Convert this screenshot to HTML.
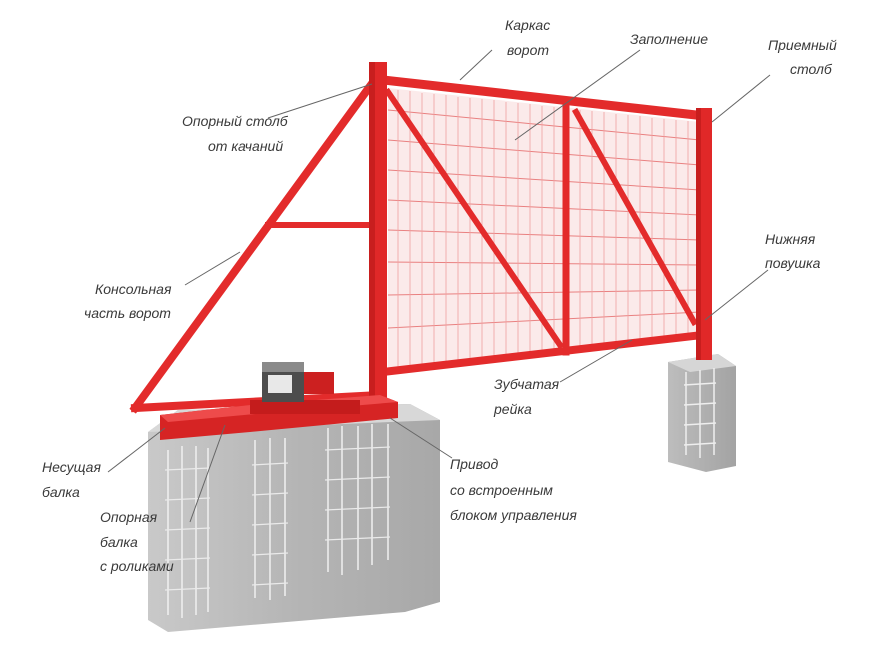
<!DOCTYPE html>
<html><head><meta charset="utf-8"><style>
html,body{margin:0;padding:0;background:#fff;}
svg{display:block;}
text{font-family:"Liberation Sans",sans-serif;font-style:italic;font-size:14px;fill:#3a3a3a;}
</style></head><body>
<svg width="880" height="652" viewBox="0 0 880 652" xmlns="http://www.w3.org/2000/svg">
<defs>
<linearGradient id="conc" x1="0" y1="0" x2="1" y2="0">
<stop offset="0" stop-color="#c9c9c9"/><stop offset="0.5" stop-color="#b5b5b5"/><stop offset="1" stop-color="#a8a8a8"/>
</linearGradient>
<linearGradient id="conc2" x1="0" y1="0" x2="1" y2="0">
<stop offset="0" stop-color="#bdbdbd"/><stop offset="1" stop-color="#a3a3a3"/>
</linearGradient>
</defs>
<!-- right pedestal -->
<polygon points="668,362 718,354 736,366 736,466 706,472 668,462" fill="url(#conc2)"/>
<polygon points="668,362 718,354 736,366 690,372" fill="#d6d6d6"/>
<g stroke="#eee" stroke-width="1.5" fill="none">
<line x1="686" y1="372" x2="686" y2="455"/><line x1="700" y1="370" x2="700" y2="458"/><line x1="714" y1="368" x2="714" y2="455"/>
<line x1="684" y1="385" x2="716" y2="383"/><line x1="684" y1="405" x2="716" y2="403"/><line x1="684" y1="425" x2="716" y2="423"/><line x1="684" y1="445" x2="716" y2="443"/>
</g>
<!-- left foundation -->
<polygon points="148,432 178,410 410,404 440,420 440,602 405,612 168,632 148,620" fill="url(#conc)"/>
<polygon points="148,432 178,410 410,404 440,420" fill="#d8d8d8"/>
<g stroke="#f0f0f0" stroke-width="1.5" fill="none">
<line x1="168" y1="450" x2="168" y2="615"/><line x1="182" y1="446" x2="182" y2="618"/><line x1="196" y1="446" x2="196" y2="615"/><line x1="208" y1="448" x2="208" y2="612"/>
<line x1="255" y1="440" x2="255" y2="598"/><line x1="270" y1="438" x2="270" y2="600"/><line x1="285" y1="438" x2="285" y2="596"/>
<line x1="328" y1="428" x2="328" y2="572"/><line x1="342" y1="426" x2="342" y2="575"/><line x1="358" y1="426" x2="358" y2="570"/><line x1="372" y1="424" x2="372" y2="565"/><line x1="388" y1="424" x2="388" y2="560"/>
</g>
<g stroke="#eaeaea" stroke-width="1.2">
<line x1="165" y1="470" x2="210" y2="468"/><line x1="165" y1="500" x2="210" y2="498"/><line x1="165" y1="530" x2="210" y2="528"/><line x1="165" y1="560" x2="210" y2="558"/><line x1="165" y1="590" x2="210" y2="588"/>
<line x1="252" y1="465" x2="288" y2="463"/><line x1="252" y1="495" x2="288" y2="493"/><line x1="252" y1="525" x2="288" y2="523"/><line x1="252" y1="555" x2="288" y2="553"/><line x1="252" y1="585" x2="288" y2="583"/>
<line x1="325" y1="450" x2="390" y2="447"/><line x1="325" y1="480" x2="390" y2="477"/><line x1="325" y1="510" x2="390" y2="507"/><line x1="325" y1="540" x2="390" y2="537"/>
</g>
<!-- mesh -->
<g stroke="#e98080" stroke-width="1" fill="none">
<polygon points="388,88 700,122 700,332 388,372" fill="#fbeaea" stroke="none"/>
<line x1="388" y1="110" x2="700" y2="140"/><line x1="388" y1="140" x2="700" y2="165"/><line x1="388" y1="170" x2="700" y2="190"/><line x1="388" y1="200" x2="700" y2="215"/><line x1="388" y1="230" x2="700" y2="240"/><line x1="388" y1="262" x2="700" y2="265"/><line x1="388" y1="295" x2="700" y2="290"/><line x1="388" y1="328" x2="700" y2="312"/>
</g>
<g stroke="#f0a0a0" stroke-width="0.8">
<line x1="398" y1="90" x2="398" y2="370"/><line x1="410" y1="91" x2="410" y2="369"/><line x1="422" y1="93" x2="422" y2="367"/><line x1="434" y1="94" x2="434" y2="366"/><line x1="446" y1="95" x2="446" y2="364"/><line x1="458" y1="97" x2="458" y2="363"/><line x1="470" y1="98" x2="470" y2="361"/><line x1="482" y1="99" x2="482" y2="360"/><line x1="494" y1="100" x2="494" y2="358"/><line x1="506" y1="102" x2="506" y2="357"/><line x1="518" y1="103" x2="518" y2="355"/><line x1="530" y1="104" x2="530" y2="354"/><line x1="542" y1="106" x2="542" y2="352"/><line x1="554" y1="107" x2="554" y2="351"/>
<line x1="580" y1="110" x2="580" y2="348"/><line x1="592" y1="111" x2="592" y2="346"/><line x1="604" y1="112" x2="604" y2="345"/><line x1="616" y1="114" x2="616" y2="343"/><line x1="628" y1="115" x2="628" y2="342"/><line x1="640" y1="116" x2="640" y2="340"/><line x1="652" y1="118" x2="652" y2="339"/><line x1="664" y1="119" x2="664" y2="337"/><line x1="676" y1="120" x2="676" y2="336"/><line x1="688" y1="121" x2="688" y2="334"/>
</g>
<!-- frame -->
<g stroke="#e32b2b" fill="none" stroke-linecap="square">
<line x1="383" y1="80" x2="705" y2="116" stroke-width="9"/>
<line x1="383" y1="372" x2="702" y2="335" stroke-width="8"/>
<line x1="566" y1="106" x2="566" y2="352" stroke-width="7"/>
<line x1="388" y1="92" x2="560" y2="345" stroke-width="6"/>
<line x1="576" y1="112" x2="694" y2="322" stroke-width="6"/>
<line x1="376" y1="78" x2="135" y2="408" stroke-width="8"/>
<line x1="135" y1="408" x2="380" y2="395" stroke-width="8"/>
<line x1="268" y1="225" x2="376" y2="225" stroke-width="6"/>
</g>
<rect x="369" y="62" width="18" height="348" fill="#e02828"/>
<rect x="369" y="62" width="6" height="348" fill="#c81e1e"/>
<rect x="696" y="108" width="16" height="252" fill="#e02828"/>
<rect x="696" y="108" width="5" height="252" fill="#c81e1e"/>
<!-- carrying beam -->
<polygon points="160,415 250,405 380,395 398,402 398,418 250,432 160,440" fill="#d62424"/>
<polygon points="160,415 250,405 380,395 398,402 255,414 168,422" fill="#ee4b4b"/>
<rect x="250" y="400" width="110" height="14" fill="#c41c1c"/>
<!-- motor -->
<rect x="262" y="362" width="42" height="40" fill="#4d4d4d"/>
<rect x="262" y="362" width="42" height="10" fill="#8a8a8a"/>
<rect x="268" y="375" width="24" height="18" fill="#e8e8e8"/>
<rect x="304" y="372" width="30" height="22" fill="#cc2020"/>
<!-- leader lines -->
<g stroke="#666" stroke-width="1">
<line x1="492" y1="50" x2="460" y2="80"/>
<line x1="640" y1="50" x2="515" y2="140"/>
<line x1="770" y1="75" x2="712" y2="122"/>
<line x1="268" y1="118" x2="372" y2="84"/>
<line x1="768" y1="270" x2="705" y2="320"/>
<line x1="185" y1="285" x2="240" y2="252"/>
<line x1="560" y1="382" x2="632" y2="340"/>
<line x1="108" y1="472" x2="165" y2="428"/>
<line x1="452" y1="458" x2="390" y2="418"/>
<line x1="190" y1="522" x2="225" y2="425"/>
</g>
<text x="505" y="30">Каркас</text><text x="507" y="55">ворот</text>
<text x="630" y="44">Заполнение</text>
<text x="768" y="50">Приемный</text><text x="790" y="74">столб</text>
<text x="182" y="126">Опорный столб</text><text x="208" y="151">от качаний</text>
<text x="765" y="244">Нижняя</text><text x="765" y="268">повушка</text>
<text x="95" y="294">Консольная</text><text x="84" y="318">часть ворот</text>
<text x="494" y="389">Зубчатая</text><text x="494" y="414">рейка</text>
<text x="42" y="472">Несущая</text><text x="42" y="497">балка</text>
<text x="450" y="469">Привод</text><text x="450" y="495">со встроенным</text><text x="450" y="520">блоком управления</text>
<text x="100" y="522">Опорная</text><text x="100" y="547">балка</text><text x="100" y="571">с роликами</text>
</svg>
</body></html>
